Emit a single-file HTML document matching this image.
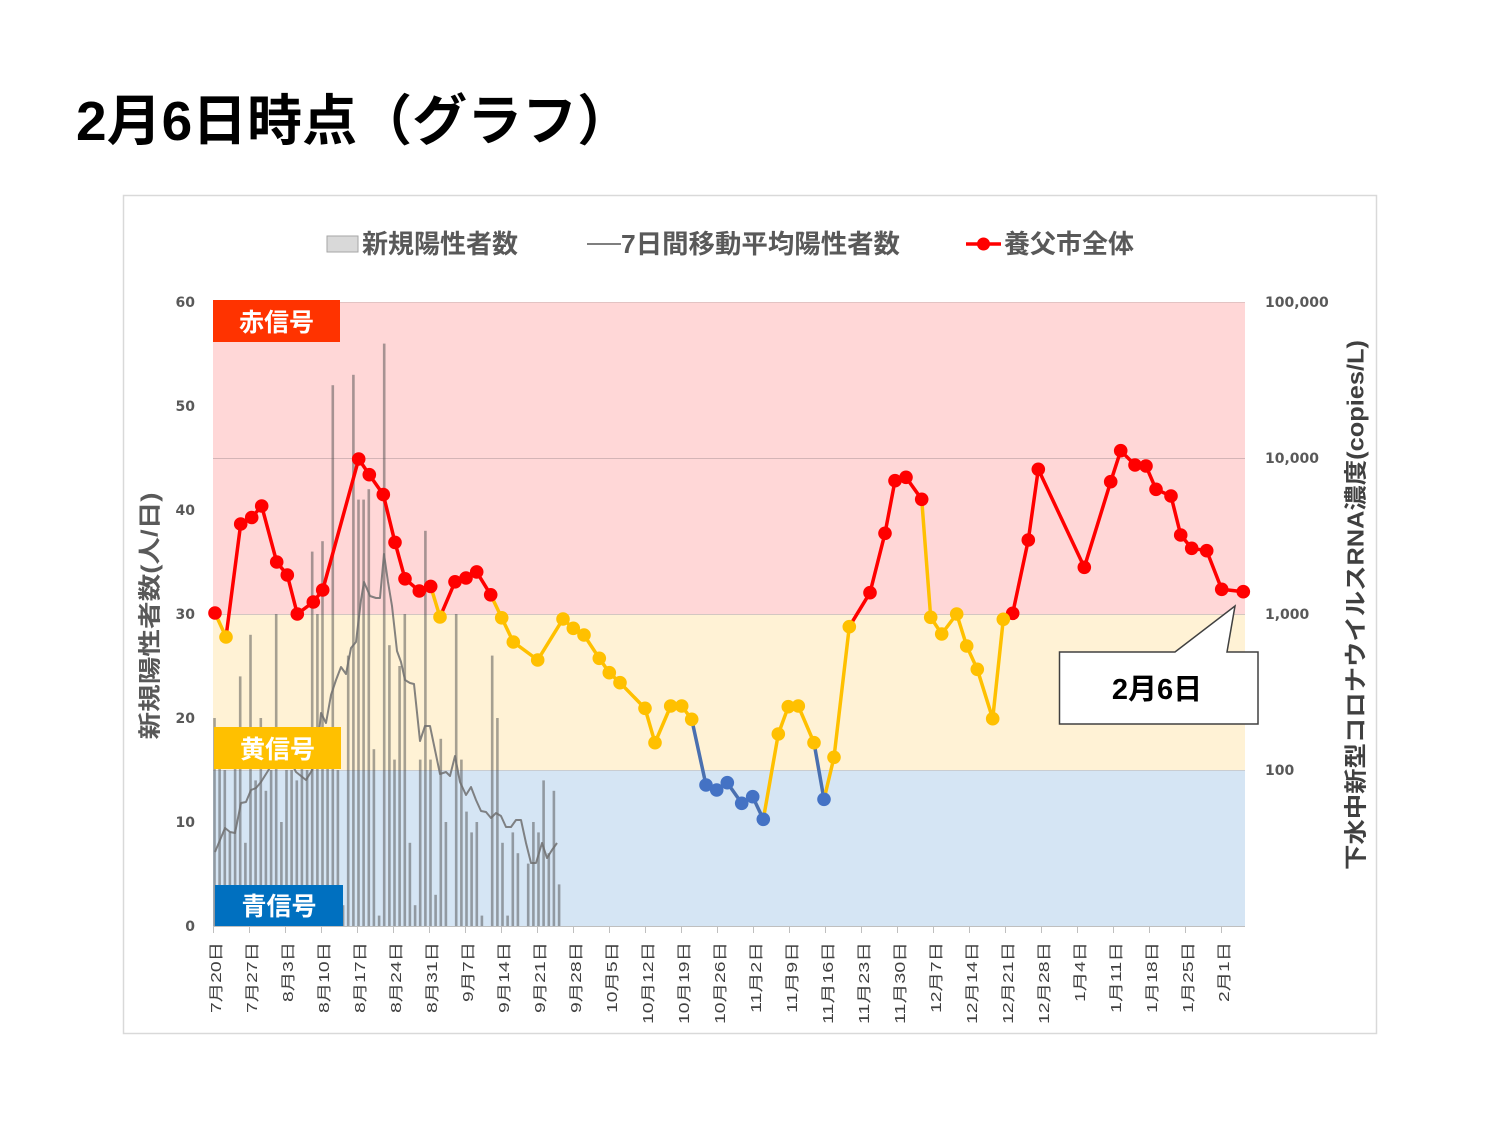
<!DOCTYPE html>
<html><head><meta charset="utf-8"><style>
html,body{margin:0;padding:0;background:#fff;}
svg{display:block;}
text{font-family:"Liberation Sans","Noto Sans CJK JP",sans-serif;}
.tk{font-family:"DejaVu Sans",sans-serif;font-weight:bold;font-size:14px;fill:#595959;}
.xl{font-size:15px;fill:#404040;}
</style></head><body>
<svg width="1500" height="1125" viewBox="0 0 1500 1125" xmlns="http://www.w3.org/2000/svg">
<rect width="1500" height="1125" fill="#fff"/>
<text x="76" y="140" font-size="55" font-weight="bold" fill="#000">2月6日時点（グラフ）</text>
<rect x="123.5" y="195.5" width="1253" height="838" fill="#fff" stroke="#d9d9d9" stroke-width="1.5"/>

<!-- legend -->
<rect x="327" y="236" width="31" height="16" fill="#d9d9d9" stroke="#a6a6a6" stroke-width="1"/>
<text x="362" y="253" font-size="26" font-weight="bold" fill="#595959">新規陽性者数</text>
<line x1="587" y1="244" x2="621" y2="244" stroke="#7f7f7f" stroke-width="2"/>
<text x="621" y="253" font-size="26" font-weight="bold" fill="#595959" textLength="279" lengthAdjust="spacingAndGlyphs">7日間移動平均陽性者数</text>
<line x1="966" y1="244" x2="1001" y2="244" stroke="#ff0000" stroke-width="3.5"/>
<circle cx="983.5" cy="244" r="6.5" fill="#ff0000"/>
<text x="1004" y="253" font-size="26" font-weight="bold" fill="#595959">養父市全体</text>

<!-- bands -->
<rect x="213" y="302" width="1032" height="312" fill="#ffd7d7"/>
<rect x="213" y="614" width="1032" height="156" fill="#fff2d5"/>
<rect x="213" y="770" width="1032" height="156" fill="#d5e5f4"/>
<line x1="213" y1="302.5" x2="1245" y2="302.5" stroke="#e3c3c3" stroke-width="1"/>
<line x1="213" y1="458.5" x2="1245" y2="458.5" stroke="#d4b4b6" stroke-width="1"/>
<line x1="213" y1="614.5" x2="1245" y2="614.5" stroke="#d3c7c2" stroke-width="1"/>
<line x1="213" y1="770.5" x2="1245" y2="770.5" stroke="#c9cdd2" stroke-width="1"/>
<line x1="213" y1="926.5" x2="1245" y2="926.5" stroke="#bfbfbf" stroke-width="1"/>

<!-- bars -->
<g fill="#4d4d4d" fill-opacity="0.5">
<rect x="213.2" y="718" width="2.6" height="208"/>
<rect x="218.3" y="759.6" width="2.6" height="166.4"/>
<rect x="223.5" y="770" width="2.6" height="156"/>
<rect x="228.6" y="832.4" width="2.6" height="93.6"/>
<rect x="233.8" y="759.6" width="2.6" height="166.4"/>
<rect x="238.9" y="676.4" width="2.6" height="249.6"/>
<rect x="244.1" y="842.8" width="2.6" height="83.2"/>
<rect x="249.2" y="634.8" width="2.6" height="291.2"/>
<rect x="254.3" y="780.4" width="2.6" height="145.6"/>
<rect x="259.5" y="718" width="2.6" height="208"/>
<rect x="264.6" y="790.8" width="2.6" height="135.2"/>
<rect x="269.8" y="770" width="2.6" height="156"/>
<rect x="274.9" y="614" width="2.6" height="312"/>
<rect x="280.1" y="822" width="2.6" height="104"/>
<rect x="285.2" y="770" width="2.6" height="156"/>
<rect x="290.3" y="770" width="2.6" height="156"/>
<rect x="295.5" y="780.4" width="2.6" height="145.6"/>
<rect x="300.6" y="759.6" width="2.6" height="166.4"/>
<rect x="305.8" y="770" width="2.6" height="156"/>
<rect x="310.9" y="551.6" width="2.6" height="374.4"/>
<rect x="316.1" y="614" width="2.6" height="312"/>
<rect x="321.2" y="541.2" width="2.6" height="384.8"/>
<rect x="326.3" y="759.6" width="2.6" height="166.4"/>
<rect x="331.5" y="385.2" width="2.6" height="540.8"/>
<rect x="336.6" y="770" width="2.6" height="156"/>
<rect x="341.8" y="905.2" width="2.6" height="20.8"/>
<rect x="346.9" y="655.6" width="2.6" height="270.4"/>
<rect x="352.1" y="374.8" width="2.6" height="551.2"/>
<rect x="357.2" y="499.6" width="2.6" height="426.4"/>
<rect x="362.3" y="499.6" width="2.6" height="426.4"/>
<rect x="367.5" y="489.2" width="2.6" height="436.8"/>
<rect x="372.6" y="749.2" width="2.6" height="176.8"/>
<rect x="377.8" y="915.6" width="2.6" height="10.4"/>
<rect x="382.9" y="343.6" width="2.6" height="582.4"/>
<rect x="388.1" y="645.2" width="2.6" height="280.8"/>
<rect x="393.2" y="759.6" width="2.6" height="166.4"/>
<rect x="398.3" y="666" width="2.6" height="260"/>
<rect x="403.5" y="614" width="2.6" height="312"/>
<rect x="408.6" y="842.8" width="2.6" height="83.2"/>
<rect x="413.8" y="905.2" width="2.6" height="20.8"/>
<rect x="418.9" y="759.6" width="2.6" height="166.4"/>
<rect x="424.1" y="530.8" width="2.6" height="395.2"/>
<rect x="429.2" y="759.6" width="2.6" height="166.4"/>
<rect x="434.3" y="894.8" width="2.6" height="31.2"/>
<rect x="439.5" y="738.8" width="2.6" height="187.2"/>
<rect x="444.6" y="822" width="2.6" height="104"/>
<rect x="454.9" y="614" width="2.6" height="312"/>
<rect x="460.1" y="759.6" width="2.6" height="166.4"/>
<rect x="465.2" y="811.6" width="2.6" height="114.4"/>
<rect x="470.3" y="832.4" width="2.6" height="93.6"/>
<rect x="475.5" y="822" width="2.6" height="104"/>
<rect x="480.6" y="915.6" width="2.6" height="10.4"/>
<rect x="490.9" y="655.6" width="2.6" height="270.4"/>
<rect x="496.1" y="718" width="2.6" height="208"/>
<rect x="501.2" y="842.8" width="2.6" height="83.2"/>
<rect x="506.3" y="915.6" width="2.6" height="10.4"/>
<rect x="511.5" y="832.4" width="2.6" height="93.6"/>
<rect x="516.6" y="853.2" width="2.6" height="72.8"/>
<rect x="526.9" y="863.6" width="2.6" height="62.4"/>
<rect x="532.1" y="822" width="2.6" height="104"/>
<rect x="537.2" y="832.4" width="2.6" height="93.6"/>
<rect x="542.3" y="780.4" width="2.6" height="145.6"/>
<rect x="547.5" y="853.2" width="2.6" height="72.8"/>
<rect x="552.6" y="790.8" width="2.6" height="135.2"/>
<rect x="557.8" y="884.4" width="2.6" height="41.6"/>
</g>

<!-- 7-day avg line -->
<polyline fill="none" stroke="#6f6f6f" stroke-opacity="0.85" stroke-width="2" stroke-linejoin="round" points="215,852 220,840 225,828 230,832 235,833 241,803 246,802 251,790 256,788 261,782 266,774 271,766 276,755 281,750 286,752 291,762 296,772 301,776 306,780 311,772 316,762 321,713 326,723 331,695 336,680 341,667 346,674 351,648 356,642 361,600 364,582 370,596 376,598 380,598 384,554 388,582 392,606 397,651 401,662 405,680 410,683 414,684 420,741 425,726 430,726 435,750 440,774 446,772 450,776 455,756 460,782 466,795 471,787 476,800 481,811 486,812 491,818 496,813 501,816 506,827 511,827 516,820 521,820 526,843 531,863 536,863 542,843 547,858 552,850 557,843"/>

<!-- signal labels -->
<rect x="213" y="300" width="127" height="42" fill="#ff3300"/>
<text x="276.5" y="331" font-size="25" font-weight="bold" fill="#fff" text-anchor="middle">赤信号</text>
<rect x="214" y="727" width="127" height="42" fill="#ffc000"/>
<text x="277.5" y="758" font-size="25" font-weight="bold" fill="#fff" text-anchor="middle">黄信号</text>
<rect x="215" y="885" width="128" height="41" fill="#0070c0"/>
<text x="279" y="915" font-size="25" font-weight="bold" fill="#fff" text-anchor="middle">青信号</text>

<!-- wastewater series lines -->
<g fill="none" stroke-width="3.5" stroke-linejoin="round" stroke-linecap="round">
<polyline stroke="#ffc000" points="215,613 226,637"/>
<polyline stroke="#ff0000" points="226,637 240.7,524 251.7,517.5 261.7,506 276.7,562 287.3,575 297.3,614 313.3,602 322.7,590 358.7,459 369.3,474.7 383.3,494.6 395,542.4 405,578.8 419.3,591 430.7,586.4"/>
<polyline stroke="#ffc000" points="430.7,586.4 440,617"/>
<polyline stroke="#ff0000" points="440,617 455,581.8 466,578 476.7,571.9 490.7,594.8"/>
<polyline stroke="#ffc000" points="490.7,594.8 501.7,617.8 513.3,642 537.7,660 563,619 573.3,628.3 584,635 599.3,658.3 609.3,672.7 620,682.7 645,708.3 655,742.7 670.7,706 681.7,706 691.7,719.3"/>
<polyline stroke="#4a70b0" points="691.7,719.3 706,785 716.7,790 727.3,782.7 741.7,803.3 752.7,796.7 763.3,819.3"/>
<polyline stroke="#ffc000" points="763.3,819.3 778.3,734 788.3,706.7 798.3,706 814,742.7"/>
<polyline stroke="#4a70b0" points="814,742.7 824,799.3"/>
<polyline stroke="#ffc000" points="824,799.3 834,757.3 849.3,626.7"/>
<polyline stroke="#ff0000" points="849.3,626.7 870,592.7 885,533.3 895,480.7 906,477.3 921.7,499.3"/>
<polyline stroke="#ffc000" points="921.7,499.3 930.7,617.3 941.7,634 956.7,614 966.7,646 977.3,669.3 992.7,718.7 1003.3,619.3"/>
<polyline stroke="#ff0000" points="1003.3,619.3 1012.7,613.3 1028.3,540 1038.3,469.3 1084.3,567.3 1110.7,481.7 1120.7,450.7 1135,465 1146,466 1156,489.3 1171,496 1180.7,535 1191.7,548.3 1206.7,550.7 1221.7,589.3 1243.3,591.7"/>
</g>
<!-- markers -->
<g fill="#ff0000">
<circle cx="215" cy="613" r="6.8"/>
<circle cx="240.7" cy="524" r="6.8"/>
<circle cx="251.7" cy="517.5" r="6.8"/>
<circle cx="261.7" cy="506" r="6.8"/>
<circle cx="276.7" cy="562" r="6.8"/>
<circle cx="287.3" cy="575" r="6.8"/>
<circle cx="297.3" cy="614" r="6.8"/>
<circle cx="313.3" cy="602" r="6.8"/>
<circle cx="322.7" cy="590" r="6.8"/>
<circle cx="358.7" cy="459" r="6.8"/>
<circle cx="369.3" cy="474.7" r="6.8"/>
<circle cx="383.3" cy="494.6" r="6.8"/>
<circle cx="395" cy="542.4" r="6.8"/>
<circle cx="405" cy="578.8" r="6.8"/>
<circle cx="419.3" cy="591" r="6.8"/>
<circle cx="430.7" cy="586.4" r="6.8"/>
<circle cx="455" cy="581.8" r="6.8"/>
<circle cx="466" cy="578" r="6.8"/>
<circle cx="476.7" cy="571.9" r="6.8"/>
<circle cx="490.7" cy="594.8" r="6.8"/>
<circle cx="870" cy="592.7" r="6.8"/>
<circle cx="885" cy="533.3" r="6.8"/>
<circle cx="895" cy="480.7" r="6.8"/>
<circle cx="906" cy="477.3" r="6.8"/>
<circle cx="921.7" cy="499.3" r="6.8"/>
<circle cx="1012.7" cy="613.3" r="6.8"/>
<circle cx="1028.3" cy="540" r="6.8"/>
<circle cx="1038.3" cy="469.3" r="6.8"/>
<circle cx="1084.3" cy="567.3" r="6.8"/>
<circle cx="1110.7" cy="481.7" r="6.8"/>
<circle cx="1120.7" cy="450.7" r="6.8"/>
<circle cx="1135" cy="465" r="6.8"/>
<circle cx="1146" cy="466" r="6.8"/>
<circle cx="1156" cy="489.3" r="6.8"/>
<circle cx="1171" cy="496" r="6.8"/>
<circle cx="1180.7" cy="535" r="6.8"/>
<circle cx="1191.7" cy="548.3" r="6.8"/>
<circle cx="1206.7" cy="550.7" r="6.8"/>
<circle cx="1221.7" cy="589.3" r="6.8"/>
<circle cx="1243.3" cy="591.7" r="6.8"/>
</g>
<g fill="#ffc000">
<circle cx="226" cy="637" r="6.8"/>
<circle cx="440" cy="617" r="6.8"/>
<circle cx="501.7" cy="617.8" r="6.8"/>
<circle cx="513.3" cy="642" r="6.8"/>
<circle cx="537.7" cy="660" r="6.8"/>
<circle cx="563" cy="619" r="6.8"/>
<circle cx="573.3" cy="628.3" r="6.8"/>
<circle cx="584" cy="635" r="6.8"/>
<circle cx="599.3" cy="658.3" r="6.8"/>
<circle cx="609.3" cy="672.7" r="6.8"/>
<circle cx="620" cy="682.7" r="6.8"/>
<circle cx="645" cy="708.3" r="6.8"/>
<circle cx="655" cy="742.7" r="6.8"/>
<circle cx="670.7" cy="706" r="6.8"/>
<circle cx="681.7" cy="706" r="6.8"/>
<circle cx="691.7" cy="719.3" r="6.8"/>
<circle cx="778.3" cy="734" r="6.8"/>
<circle cx="788.3" cy="706.7" r="6.8"/>
<circle cx="798.3" cy="706" r="6.8"/>
<circle cx="814" cy="742.7" r="6.8"/>
<circle cx="834" cy="757.3" r="6.8"/>
<circle cx="849.3" cy="626.7" r="6.8"/>
<circle cx="930.7" cy="617.3" r="6.8"/>
<circle cx="941.7" cy="634" r="6.8"/>
<circle cx="956.7" cy="614" r="6.8"/>
<circle cx="966.7" cy="646" r="6.8"/>
<circle cx="977.3" cy="669.3" r="6.8"/>
<circle cx="992.7" cy="718.7" r="6.8"/>
<circle cx="1003.3" cy="619.3" r="6.8"/>
</g>
<g fill="#4472c4">
<circle cx="706" cy="785" r="6.8"/>
<circle cx="716.7" cy="790" r="6.8"/>
<circle cx="727.3" cy="782.7" r="6.8"/>
<circle cx="741.7" cy="803.3" r="6.8"/>
<circle cx="752.7" cy="796.7" r="6.8"/>
<circle cx="763.3" cy="819.3" r="6.8"/>
<circle cx="824" cy="799.3" r="6.8"/>
</g>

<!-- callout -->
<polygon points="1059.5,652 1175,652 1235,606 1227,652 1258,652 1258,724 1059.5,724" fill="#fff" stroke="#404040" stroke-width="1.5" stroke-linejoin="miter"/>
<text x="1157" y="699" font-size="29" font-weight="bold" fill="#000" text-anchor="middle">2月6日</text>

<!-- left ticks -->
<text class="tk" x="195" y="307" text-anchor="end">60</text>
<text class="tk" x="195" y="411" text-anchor="end">50</text>
<text class="tk" x="195" y="515" text-anchor="end">40</text>
<text class="tk" x="195" y="619" text-anchor="end">30</text>
<text class="tk" x="195" y="723" text-anchor="end">20</text>
<text class="tk" x="195" y="827" text-anchor="end">10</text>
<text class="tk" x="195" y="931" text-anchor="end">0</text>
<!-- right ticks -->
<text class="tk" x="1265" y="307">100,000</text>
<text class="tk" x="1265" y="463">10,000</text>
<text class="tk" x="1265" y="619">1,000</text>
<text class="tk" x="1265" y="775">100</text>

<!-- axis titles -->
<g transform="translate(149,616) rotate(-90)"><text x="0" y="8.5" font-size="23" font-weight="bold" fill="#595959" text-anchor="middle" textLength="247" lengthAdjust="spacingAndGlyphs">新規陽性者数(人/日)</text></g>
<g transform="translate(1355,605) rotate(-90)"><text x="0" y="8.5" font-size="23" font-weight="bold" fill="#404040" text-anchor="middle" textLength="530" lengthAdjust="spacingAndGlyphs">下水中新型コロナウイルスRNA濃度(copies/L)</text></g>

<!-- x ticks -->
<g stroke="#bfbfbf" stroke-width="1">
<line x1="213.5" y1="926" x2="213.5" y2="933"/><line x1="249.5" y1="926" x2="249.5" y2="933"/><line x1="285.5" y1="926" x2="285.5" y2="933"/><line x1="321.5" y1="926" x2="321.5" y2="933"/><line x1="357.5" y1="926" x2="357.5" y2="933"/><line x1="393.5" y1="926" x2="393.5" y2="933"/><line x1="429.5" y1="926" x2="429.5" y2="933"/><line x1="465.5" y1="926" x2="465.5" y2="933"/><line x1="501.5" y1="926" x2="501.5" y2="933"/><line x1="537.5" y1="926" x2="537.5" y2="933"/><line x1="573.5" y1="926" x2="573.5" y2="933"/><line x1="609.5" y1="926" x2="609.5" y2="933"/><line x1="645.5" y1="926" x2="645.5" y2="933"/><line x1="681.5" y1="926" x2="681.5" y2="933"/><line x1="717.5" y1="926" x2="717.5" y2="933"/><line x1="753.5" y1="926" x2="753.5" y2="933"/><line x1="789.5" y1="926" x2="789.5" y2="933"/><line x1="825.5" y1="926" x2="825.5" y2="933"/><line x1="861.5" y1="926" x2="861.5" y2="933"/><line x1="897.5" y1="926" x2="897.5" y2="933"/><line x1="933.5" y1="926" x2="933.5" y2="933"/><line x1="969.5" y1="926" x2="969.5" y2="933"/><line x1="1005.5" y1="926" x2="1005.5" y2="933"/><line x1="1041.5" y1="926" x2="1041.5" y2="933"/><line x1="1077.5" y1="926" x2="1077.5" y2="933"/><line x1="1113.5" y1="926" x2="1113.5" y2="933"/><line x1="1149.5" y1="926" x2="1149.5" y2="933"/><line x1="1185.5" y1="926" x2="1185.5" y2="933"/><line x1="1221.5" y1="926" x2="1221.5" y2="933"/>
</g>
<!-- x labels -->
<g class="xl" text-anchor="end">
<text transform="translate(221,942) rotate(-90)" textLength="71" lengthAdjust="spacingAndGlyphs">7月20日</text>
<text transform="translate(257,942) rotate(-90)" textLength="71" lengthAdjust="spacingAndGlyphs">7月27日</text>
<text transform="translate(293,942) rotate(-90)" textLength="60" lengthAdjust="spacingAndGlyphs">8月3日</text>
<text transform="translate(329,942) rotate(-90)" textLength="71" lengthAdjust="spacingAndGlyphs">8月10日</text>
<text transform="translate(365,942) rotate(-90)" textLength="71" lengthAdjust="spacingAndGlyphs">8月17日</text>
<text transform="translate(401,942) rotate(-90)" textLength="71" lengthAdjust="spacingAndGlyphs">8月24日</text>
<text transform="translate(437,942) rotate(-90)" textLength="71" lengthAdjust="spacingAndGlyphs">8月31日</text>
<text transform="translate(473,942) rotate(-90)" textLength="60" lengthAdjust="spacingAndGlyphs">9月7日</text>
<text transform="translate(509,942) rotate(-90)" textLength="71" lengthAdjust="spacingAndGlyphs">9月14日</text>
<text transform="translate(545,942) rotate(-90)" textLength="71" lengthAdjust="spacingAndGlyphs">9月21日</text>
<text transform="translate(581,942) rotate(-90)" textLength="71" lengthAdjust="spacingAndGlyphs">9月28日</text>
<text transform="translate(617,942) rotate(-90)" textLength="71" lengthAdjust="spacingAndGlyphs">10月5日</text>
<text transform="translate(653,942) rotate(-90)" textLength="82" lengthAdjust="spacingAndGlyphs">10月12日</text>
<text transform="translate(689,942) rotate(-90)" textLength="82" lengthAdjust="spacingAndGlyphs">10月19日</text>
<text transform="translate(725,942) rotate(-90)" textLength="82" lengthAdjust="spacingAndGlyphs">10月26日</text>
<text transform="translate(761,942) rotate(-90)" textLength="71" lengthAdjust="spacingAndGlyphs">11月2日</text>
<text transform="translate(797,942) rotate(-90)" textLength="71" lengthAdjust="spacingAndGlyphs">11月9日</text>
<text transform="translate(833,942) rotate(-90)" textLength="82" lengthAdjust="spacingAndGlyphs">11月16日</text>
<text transform="translate(869,942) rotate(-90)" textLength="82" lengthAdjust="spacingAndGlyphs">11月23日</text>
<text transform="translate(905,942) rotate(-90)" textLength="82" lengthAdjust="spacingAndGlyphs">11月30日</text>
<text transform="translate(941,942) rotate(-90)" textLength="71" lengthAdjust="spacingAndGlyphs">12月7日</text>
<text transform="translate(977,942) rotate(-90)" textLength="82" lengthAdjust="spacingAndGlyphs">12月14日</text>
<text transform="translate(1013,942) rotate(-90)" textLength="82" lengthAdjust="spacingAndGlyphs">12月21日</text>
<text transform="translate(1049,942) rotate(-90)" textLength="82" lengthAdjust="spacingAndGlyphs">12月28日</text>
<text transform="translate(1085,942) rotate(-90)" textLength="60" lengthAdjust="spacingAndGlyphs">1月4日</text>
<text transform="translate(1121,942) rotate(-90)" textLength="71" lengthAdjust="spacingAndGlyphs">1月11日</text>
<text transform="translate(1157,942) rotate(-90)" textLength="71" lengthAdjust="spacingAndGlyphs">1月18日</text>
<text transform="translate(1193,942) rotate(-90)" textLength="71" lengthAdjust="spacingAndGlyphs">1月25日</text>
<text transform="translate(1229,942) rotate(-90)" textLength="60" lengthAdjust="spacingAndGlyphs">2月1日</text>
</g>
</svg>
</body></html>
